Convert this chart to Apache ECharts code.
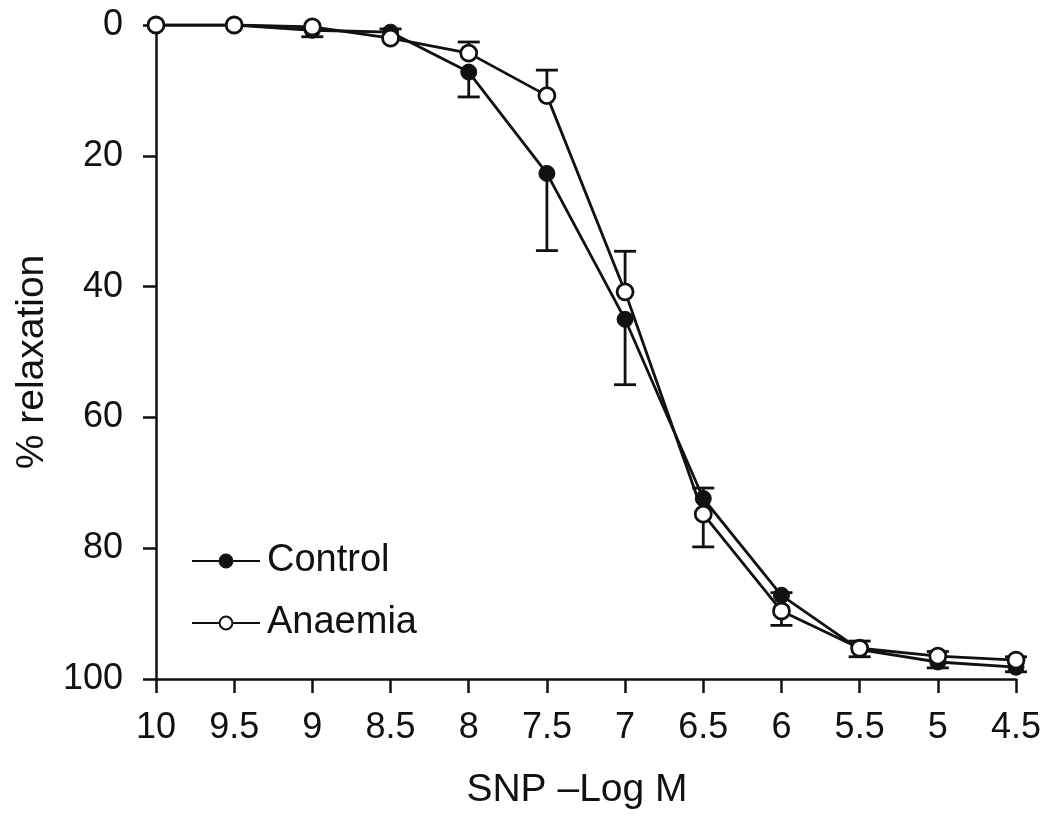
<!DOCTYPE html>
<html>
<head>
<meta charset="utf-8">
<script src="https://cdn.jsdelivr.net/npm/echarts@6/dist/echarts.min.js"></script>
<style>
html,body{margin:0;padding:0;background:#fff;}
#chart{width:1050px;height:817px;}
</style>
</head>
<body>
<div id="chart"></div>
<script>
// ---- data ----
const concentrations = [10, 9.5, 9, 8.5, 8, 7.5, 7, 6.5, 6, 5.5, 5, 4.5];
const controlValues  = [0, 0, 0.8, 1.1, 7.2, 22.7, 45.0, 72.4, 87.2, 95.5, 97.4, 98.2];
const controlErrEnd  = [null, null, 1.8, 0.6, 11.0, 34.5, 55.0, 70.8, 86.8, 96.6, 98.3, 98.9];
const anaemiaValues  = [0, 0, 0.3, 2.0, 4.3, 10.8, 40.8, 74.8, 89.6, 95.3, 96.5, 97.1];
const anaemiaErrEnd  = [null, null, null, null, 2.6, 6.9, 34.6, 79.8, 91.8, 94.2, 95.8, 96.6];
const xTicks = [10, 9.5, 9, 8.5, 8, 7.5, 7, 6.5, 6, 5.5, 5, 4.5];
const yTicks = [0, 20, 40, 60, 80, 100];
const seriesNames = ['Control', 'Anaemia'];
const xAxisTitle = 'SNP \u2013Log M';
const yAxisTitle = '% relaxation';

const FONT = '"Liberation Sans", Arial, Helvetica, sans-serif';
const INK = '#111';

function pairs(vals) { return concentrations.map((c, i) => [c, vals[i]]); }
function errData(vals, ends) {
  const out = [];
  concentrations.forEach((c, i) => { if (ends[i] !== null) out.push([c, vals[i], ends[i]]); });
  return out;
}
function errRender(params, api) {
  const p0 = api.coord([api.value(0), api.value(1)]);
  const p1 = api.coord([api.value(0), api.value(2)]);
  const hw = 11;
  const st = { stroke: INK, lineWidth: 2.8 };
  return {
    type: 'group',
    children: [
      { type: 'line', shape: { x1: p0[0], y1: p0[1], x2: p1[0], y2: p1[1] }, style: st },
      { type: 'line', shape: { x1: p1[0] - hw, y1: p1[1], x2: p1[0] + hw, y2: p1[1] }, style: st }
    ]
  };
}

const chart = echarts.init(document.getElementById('chart'), null, { renderer: 'canvas' });
chart.setOption({
  backgroundColor: '#fff',
  animation: false,
  grid: { left: 156, right: 34, top: 25, bottom: 138 },
  legend: {
    orient: 'vertical',
    left: 186, top: 537,
    itemWidth: 68, itemHeight: 16, itemGap: 24,
    textStyle: { fontFamily: FONT, fontSize: 38, color: INK, padding: [0, 0, 0, 2] },
    data: seriesNames
  },
  xAxis: {
    type: 'value', inverse: true, min: 4.5, max: 10, interval: 0.5,
    name: xAxisTitle, nameLocation: 'middle', nameGap: 92,
    nameTextStyle: { fontFamily: FONT, fontSize: 39, color: INK, padding: [0, 18, 0, 0] },
    axisLine: { onZero: false, lineStyle: { color: INK, width: 2.5 } },
    axisTick: { length: 14, lineStyle: { color: INK, width: 2.5 } },
    axisLabel: { fontFamily: FONT, fontSize: 36, color: INK, margin: 31,
      formatter: v => { const t = xTicks.find(x => Math.abs(x - v) < 1e-6); return t === undefined ? '' : String(t); } },
    splitLine: { show: false }
  },
  yAxis: {
    type: 'value', inverse: true, min: 0, max: 100, interval: 20,
    name: yAxisTitle, nameLocation: 'middle', nameRotate: 90, nameGap: 101,
    nameTextStyle: { fontFamily: FONT, fontSize: 39, color: INK, padding: [0, 20, 0, 0] },
    axisLine: { onZero: false, lineStyle: { color: INK, width: 2.5 } },
    axisTick: { length: 13, lineStyle: { color: INK, width: 2.5 } },
    axisLabel: { fontFamily: FONT, fontSize: 36, color: INK, margin: 33,
      formatter: v => { const t = yTicks.find(y => Math.abs(y - v) < 1e-6); return t === undefined ? '' : String(t); } },
    splitLine: { show: false }
  },
  series: [
    { type: 'custom', name: 'ctrlErr', renderItem: errRender, data: errData(controlValues, controlErrEnd), z: 1, silent: true },
    { type: 'custom', name: 'anaErr', renderItem: errRender, data: errData(anaemiaValues, anaemiaErrEnd), z: 1, silent: true },
    {
      type: 'line', name: seriesNames[0], data: pairs(controlValues), z: 3,
      symbol: 'circle', symbolSize: 16, showAllSymbol: true,
      lineStyle: { color: INK, width: 2.8 },
      itemStyle: { color: INK, borderColor: INK, borderWidth: 1 }
    },
    {
      type: 'line', name: seriesNames[1], data: pairs(anaemiaValues), z: 4,
      symbol: 'circle', symbolSize: 16, showAllSymbol: true,
      lineStyle: { color: INK, width: 2.8 },
      itemStyle: { color: '#fff', borderColor: INK, borderWidth: 2.8 }
    }
  ]
});
</script>
</body>
</html>
